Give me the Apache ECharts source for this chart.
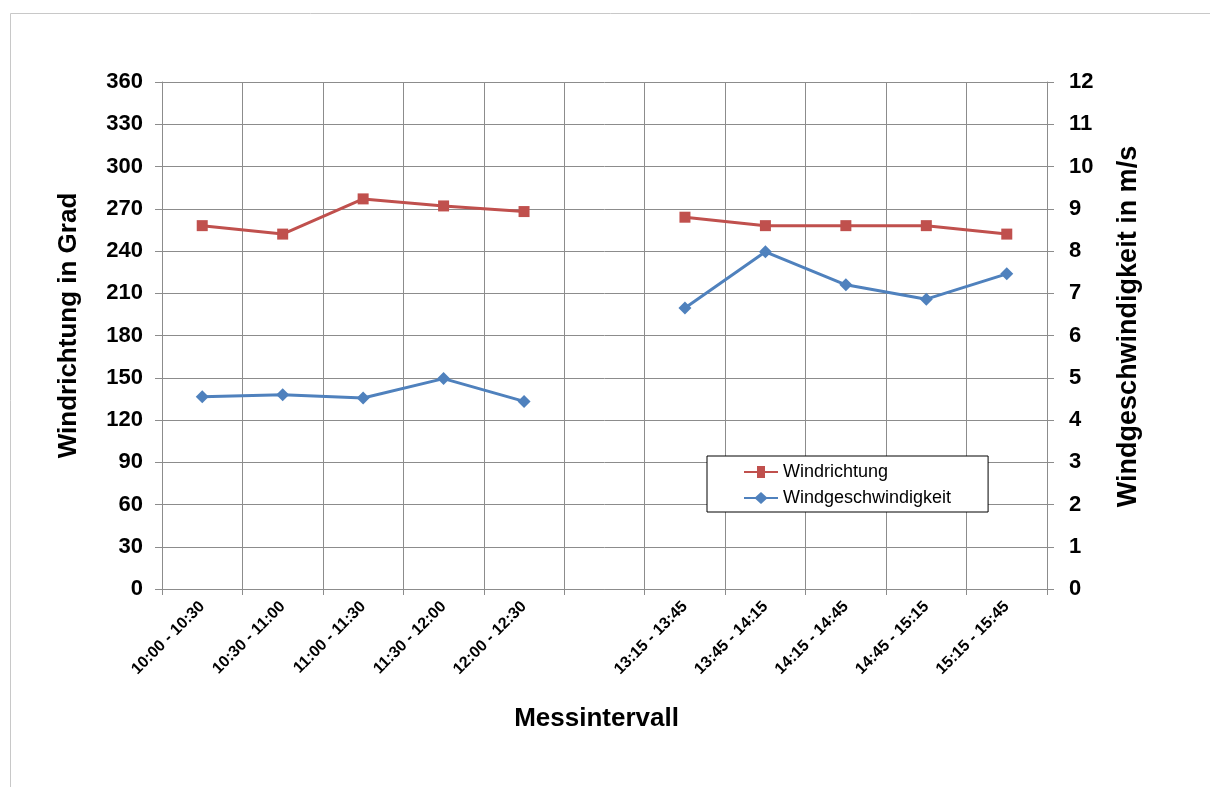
<!DOCTYPE html>
<html>
<head>
<meta charset="utf-8">
<script src="https://cdn.jsdelivr.net/npm/echarts@6/dist/echarts.min.js"></script>
<style>
html,body{margin:0;padding:0;background:#fff;}
#chart{width:1210px;height:787px;}
</style>
</head>
<body>
<div id="chart"></div>
<script>
const categories = ['10:00 - 10:30','10:30 - 11:00','11:00 - 11:30','11:30 - 12:00','12:00 - 12:30','','13:15 - 13:45','13:45 - 14:15','14:15 - 14:45','14:45 - 15:15','15:15 - 15:45'];
const windrichtung = [258, 252, 277, 272, 268, null, 264, 258, 258, 258, 252];
const windgeschwindigkeit = [4.55, 4.6, 4.52, 4.98, 4.44, null, 6.65, 7.98, 7.2, 6.86, 7.46];
const leftTicks = {min: 0, max: 360, interval: 30};
const rightTicks = {min: 0, max: 12, interval: 1};

const FONT = '"Liberation Sans", Arial, sans-serif';
const chart = echarts.init(document.getElementById('chart'));
const gridColor = '#8c8c8c';
chart.setOption({
  animation: false,
  backgroundColor: '#fff',
  textStyle: {fontFamily: FONT},
  graphic: [{
    type: 'rect', z: -10, silent: true,
    shape: {x: 10.5, y: 13.5, width: 1400, height: 1000},
    style: {fill: 'none', stroke: '#c8c8c8', lineWidth: 1}
  }],
  grid: {left: 162, right: 163, top: 82, bottom: 198, containLabel: false},
  legend: {
    orient: 'vertical', left: 707, top: 456,
    padding: [7, 37, 5, 37],
    itemGap: 8, itemWidth: 34, itemHeight: 12,
    backgroundColor: '#fff', borderColor: '#000', borderWidth: 1,
    textStyle: {fontFamily: FONT, fontSize: 18, color: '#000'},
    data: [
      {name: 'Windrichtung', icon: 'path://M0,5 L13,5 L13,0 L21,0 L21,5 L34,5 L34,7 L21,7 L21,12 L13,12 L13,7 L0,7 Z'},
      {name: 'Windgeschwindigkeit', icon: 'path://M0,5 L11.5,5 L17,0 L22.5,5 L34,5 L34,7 L22.5,7 L17,12 L11.5,7 L0,7 Z'}
    ]
  },
  xAxis: {
    type: 'category', data: categories, boundaryGap: true,
    name: 'Messintervall', nameLocation: 'middle', nameGap: 117,
    nameTextStyle: {fontFamily: FONT, fontSize: 26, fontWeight: 'bold', color: '#000', padding: [0, 16, 0, 0]},
    axisLine: {lineStyle: {color: gridColor, width: 1}},
    axisTick: {show: true, length: 6, alignWithLabel: false, lineStyle: {color: gridColor}},
    axisLabel: {interval: 0, rotate: 45, fontFamily: FONT, fontSize: 16, fontWeight: 'bold', color: '#000', margin: 15},
    splitLine: {show: true, lineStyle: {color: gridColor, width: 1}}
  },
  yAxis: [{
    type: 'value', min: leftTicks.min, max: leftTicks.max, interval: leftTicks.interval,
    position: 'left',
    name: 'Windrichtung in Grad', nameLocation: 'middle', nameGap: 80, nameRotate: 90,
    nameTextStyle: {fontFamily: FONT, fontSize: 26, fontWeight: 'bold', color: '#000', padding: [0, 0, 0, 20]},
    axisLine: {show: true, lineStyle: {color: gridColor}},
    axisTick: {show: true, length: 7, lineStyle: {color: gridColor}},
    axisLabel: {fontFamily: FONT, fontSize: 22, fontWeight: 'bold', color: '#000', margin: 19},
    splitLine: {show: true, lineStyle: {color: gridColor, width: 1}}
  }, {
    type: 'value', min: rightTicks.min, max: rightTicks.max, interval: rightTicks.interval,
    position: 'right',
    name: 'Windgeschwindigkeit in m/s', nameLocation: 'middle', nameGap: 68, nameRotate: 90,
    nameTextStyle: {fontFamily: FONT, fontSize: 27, fontWeight: 'bold', color: '#000', padding: [0, 0, 0, 18]},
    axisLine: {show: true, lineStyle: {color: gridColor}},
    axisTick: {show: true, length: 7, lineStyle: {color: gridColor}},
    axisLabel: {fontFamily: FONT, fontSize: 22, fontWeight: 'bold', color: '#000', margin: 22},
    splitLine: {show: false}
  }],
  series: [{
    name: 'Windrichtung', type: 'line', yAxisIndex: 0, data: windrichtung,
    connectNulls: false,
    symbol: 'rect', symbolSize: 11, showAllSymbol: true,
    lineStyle: {color: '#C0504D', width: 3},
    itemStyle: {color: '#C0504D'}
  }, {
    name: 'Windgeschwindigkeit', type: 'line', yAxisIndex: 1, data: windgeschwindigkeit,
    connectNulls: false,
    symbol: 'diamond', symbolSize: 13, showAllSymbol: true,
    lineStyle: {color: '#4F81BD', width: 3},
    itemStyle: {color: '#4F81BD'}
  }]
});
</script>
</body>
</html>
